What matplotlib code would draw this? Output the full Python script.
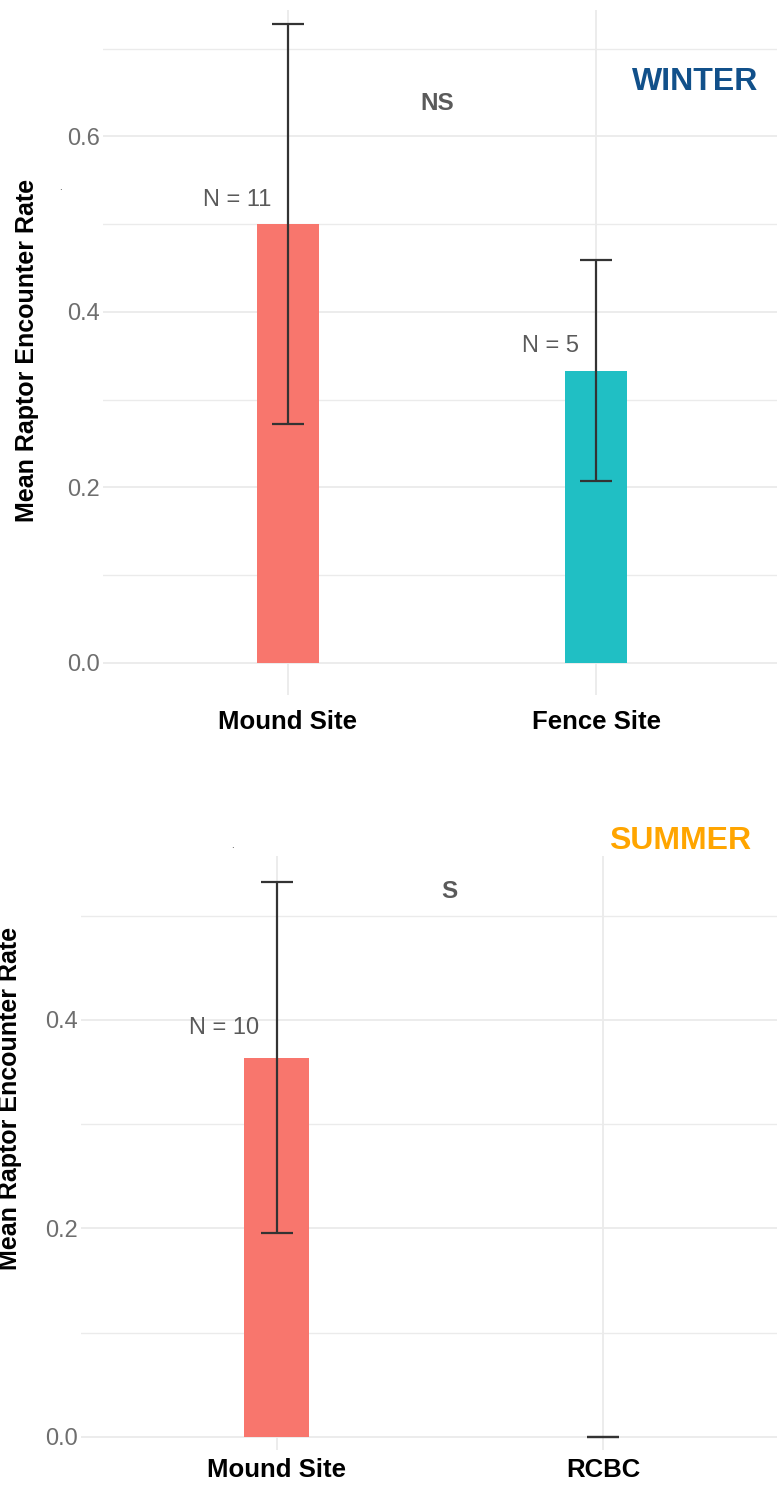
import numpy as np
import matplotlib
matplotlib.use('Agg')
import matplotlib.pyplot as plt
from matplotlib.ticker import MultipleLocator

plt.rcParams['font.family'] = ['Liberation Sans', 'DejaVu Sans']

# data
winter_sites = ['Mound Site', 'Fence Site']
winter_mean = [0.500, 0.333]
winter_se = [0.228, 0.126]
winter_n = ['N = 11', 'N = 5']

summer_sites = ['Mound Site', 'RCBC']
summer_mean = [0.364, 0.0]
summer_se = [0.168, 0.0]
summer_n = ['N = 10', '']

bar_colors = ['#F8766D', '#20BFC4']
grid_col = '#EBEBEB'

W, H = 777, 1486
fig = plt.figure(figsize=(W/100, H/100), dpi=100)

def px_axes(left, top, right, bottom):
    return fig.add_axes([left/W, 1-bottom/H, (right-left)/W, (bottom-top)/H])

def style(ax, ylim, xpad):
    ax.set_xlim(0.4, 2.6)
    ax.set_ylim(*ylim)
    for s in ax.spines.values():
        s.set_visible(False)
    ax.yaxis.set_major_locator(MultipleLocator(0.2))
    ax.yaxis.set_minor_locator(MultipleLocator(0.1))
    ax.grid(True, which='major', color=grid_col, lw=1.3, zorder=0)
    ax.grid(True, which='minor', axis='y', color=grid_col, lw=1.0, zorder=0)
    ax.set_axisbelow(True)
    ax.tick_params(axis='both', which='both', length=0)
    ax.tick_params(axis='y', labelsize=17, labelcolor='#6E6E6E', pad=2)
    ax.tick_params(axis='x', labelsize=18.5, pad=xpad)
    ax.yaxis.set_major_formatter(matplotlib.ticker.FormatStrFormatter('%.1f'))

def panel(ax, sites, mean, se, nlab, colors):
    x = np.arange(1, len(sites)+1)
    ax.bar(x, mean, width=0.2, color=colors, linewidth=0, zorder=2)
    ax.errorbar(x, mean, yerr=se, fmt='none', ecolor='#333333', elinewidth=1.6,
                capsize=11.5, capthick=1.6, zorder=3)
    for xi, m, lab in zip(x, mean, nlab):
        if lab:
            ax.text(xi - 0.055, m + 0.028, lab, ha='right', va='center',
                    fontsize=17, color='#5A5A5A', zorder=4)
    ax.set_xticks(x)
    ax.set_xticklabels(sites, fontweight='bold', color='black')

# WINTER panel
ax1 = px_axes(103, 10, 781, 695)
style(ax1, (-0.0365, 0.744), 11)
panel(ax1, winter_sites, winter_mean, winter_se, winter_n, bar_colors)
ax1.text(1.484, 0.637, 'NS', ha='center', va='center', fontsize=17.5,
         fontweight='bold', color='#5A5A5A')
ax1.text(2.32, 0.662, 'WINTER', ha='center', va='center', fontsize=23,
         fontweight='bold', color='#11508A', clip_on=False)

# SUMMER panel
ax2 = px_axes(81, 856, 799, 1450)
style(ax2, (-0.0125, 0.5573), 6)
panel(ax2, summer_sites, summer_mean, summer_se, summer_n, bar_colors)
ax2.text(1.528, 0.523, 'S', ha='center', va='center', fontsize=17.5,
         fontweight='bold', color='#5A5A5A')
ax2.text(2.236, 0.572, 'SUMMER', ha='center', va='center', fontsize=23,
         fontweight='bold', color='#FFA500', clip_on=False)

# y labels
fig.text(27/W, 1-350/H, 'Mean Raptor Encounter Rate', rotation=90,
         ha='center', va='center', fontsize=18, fontweight='bold')
fig.text(10/W, 1-1098/H, 'Mean Raptor Encounter Rate', rotation=90,
         ha='center', va='center', fontsize=18, fontweight='bold')

# stray dots in the original
fig.text(60/W, 1-190/H, '.', fontsize=7, color='#333333', ha='center', va='baseline')
fig.text(232/W, 1-848/H, '.', fontsize=7, color='#333333', ha='center', va='baseline')

fig.savefig('out.png', dpi=100, facecolor='white')
